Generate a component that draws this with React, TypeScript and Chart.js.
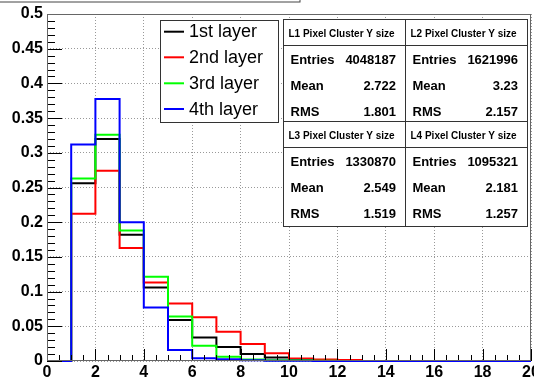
import React, { useEffect, useRef } from "react";
import { Chart, registerables } from "chart.js";
Chart.register(...registerables);

// Histogram bin edges (cluster Y size)
const binEdges = [0, 1, 2, 3, 4, 5, 6, 7, 8, 9, 10, 11, 12, 13, 14, 15, 16, 17, 18, 19, 20];
// Normalised bin contents per layer (20 bins)
const layer1 = [0, 0.256, 0.32, 0.182, 0.106, 0.059, 0.034, 0.02, 0.01, 0.005, 0.0018, 0.0008, 0.0003, 0, 0, 0, 0, 0, 0, 0];
const layer2 = [0, 0.212, 0.274, 0.163, 0.113, 0.083, 0.063, 0.042, 0.0245, 0.011, 0.0035, 0.0022, 0.0015, 0, 0, 0, 0, 0, 0, 0];
const layer3 = [0, 0.263, 0.326, 0.188, 0.1215, 0.064, 0.022, 0.006, 0.002, 0.0012, 0.0012, 0.0003, 0, 0, 0, 0, 0, 0, 0, 0];
const layer4 = [0, 0.312, 0.3775, 0.2, 0.077, 0.016, 0.004, 0.0025, 0.001, 0.0005, 0.0002, 0, 0, 0, 0, 0, 0, 0, 0, 0];

const seriesLabels = ["1st layer", "2nd layer", "3rd layer", "4th layer"];
const seriesColors = ["#000000", "#ff0000", "#00ff00", "#0000ff"];

const statTitles = ["L1 Pixel Cluster Y size", "L2 Pixel Cluster Y size", "L3 Pixel Cluster Y size", "L4 Pixel Cluster Y size"];
const statEntries = ["4048187", "1621996", "1330870", "1095321"];
const statMeans = ["2.722", "3.23", "2.549", "2.181"];
const statRms = ["1.801", "2.157", "1.519", "1.257"];

const xTickValues = [0, 2, 4, 6, 8, 10, 12, 14, 16, 18, 20];
const xTickLabels = ["0", "2", "4", "6", "8", "10", "12", "14", "16", "18", "20"];
const yTickValues = [0, 0.05, 0.1, 0.15, 0.2, 0.25, 0.3, 0.35, 0.4, 0.45, 0.5];
const yTickLabels = ["0", "0.05", "0.1", "0.15", "0.2", "0.25", "0.3", "0.35", "0.4", "0.45", "0.5"];

const FONT = '"Liberation Sans", Arial, Helvetica, sans-serif';

// each bin: horizontal at its value from its low edge to the next edge
function toSteps(vals: number[]) {
  return binEdges.map((e, i) => ({ x: e, y: vals[Math.min(i, vals.length - 1)] }));
}

const overlay = {
  id: "overlay",
  afterDraw(chart: any) {
    const { ctx, chartArea: a, scales } = chart;
    const x = scales.x;
    const y = scales.y;
    ctx.save();
    // inner ticks
    ctx.strokeStyle = "#000";
    ctx.lineWidth = 1;
    ctx.beginPath();
    for (let k = 0; k <= 50; k++) {
      const py = Math.round(y.getPixelForValue(k * 0.01)) + 0.5;
      const len = k % 5 === 0 ? 15 : 8;
      ctx.moveTo(a.left, py);
      ctx.lineTo(a.left + len, py);
    }
    for (let k = 0; k <= 40; k++) {
      const px = Math.round(x.getPixelForValue(k * 0.5)) + 0.5;
      const len = k % 4 === 0 ? 12 : 6;
      ctx.moveTo(px, a.bottom);
      ctx.lineTo(px, a.bottom - len);
    }
    ctx.stroke();
    // frame
    ctx.strokeStyle = "#666";
    ctx.strokeRect(Math.round(a.left) + 0.5, Math.round(a.top) + 0.5, Math.round(a.width) - 1, Math.round(a.height) - 1);

    // title box remnant
    ctx.strokeStyle = "#444";
    ctx.strokeRect(-5.5, -10.5, 305.5, 12.5);

    // legend
    const lx = 160.5, ly = 20.5, lw = 118, lh = 102;
    ctx.fillStyle = "#fff";
    ctx.fillRect(lx, ly, lw, lh);
    ctx.strokeStyle = "#333";
    ctx.lineWidth = 1;
    ctx.strokeRect(lx, ly, lw, lh);
    ctx.font = `18px ${FONT}`;
    ctx.textBaseline = "alphabetic";
    ctx.textAlign = "left";
    const rowY = [31.7, 57.3, 83.3, 109];
    seriesLabels.forEach((lab, i) => {
      ctx.strokeStyle = seriesColors[i];
      ctx.lineWidth = 2;
      ctx.beginPath();
      ctx.moveTo(164, rowY[i]);
      ctx.lineTo(184, rowY[i]);
      ctx.stroke();
      ctx.fillStyle = "#000";
      ctx.fillText(lab, 189, rowY[i] + 5.7);
    });

    // stats boxes
    const sx = 283.5, sw = 244, mid = 405.5;
    const tops = [19.5, 121.5];
    const bottom = 226.5;
    ctx.fillStyle = "#fff";
    ctx.fillRect(sx, tops[0], sw, bottom - tops[0]);
    ctx.strokeStyle = "#333";
    ctx.lineWidth = 1;
    ctx.strokeRect(sx, tops[0], sw, bottom - tops[0]);
    ctx.beginPath();
    ctx.moveTo(mid, tops[0]);
    ctx.lineTo(mid, bottom);
    ctx.moveTo(sx, tops[1]);
    ctx.lineTo(sx + sw, tops[1]);
    ctx.moveTo(sx, 45.5);
    ctx.lineTo(sx + sw, 45.5);
    ctx.moveTo(sx, 147.5);
    ctx.lineTo(sx + sw, 147.5);
    ctx.stroke();
    ctx.fillStyle = "#000";
    for (let i = 0; i < 4; i++) {
      const col = i % 2;
      const row = Math.floor(i / 2);
      const left = col === 0 ? sx : mid;
      const right = col === 0 ? mid : sx + sw;
      const t = tops[row];
      ctx.font = `bold 10px ${FONT}`;
      ctx.textAlign = "left";
      ctx.fillText(statTitles[i], left + 5, t + 17);
      ctx.font = `bold 13px ${FONT}`;
      ctx.fillText("Entries", left + 7, t + 44);
      ctx.fillText("Mean", left + 7, t + 70.5);
      ctx.fillText("RMS", left + 7, t + 96.5);
      ctx.textAlign = "right";
      ctx.fillText(statEntries[i], right - 9.5, t + 44);
      ctx.fillText(statMeans[i], right - 9.5, t + 70.5);
      ctx.fillText(statRms[i], right - 9.5, t + 96.5);
    }
    ctx.restore();
  },
};

export default function App() {
  const ref = useRef<HTMLCanvasElement | null>(null);
  useEffect(() => {
    const canvas = ref.current!;
    const series = [layer1, layer2, layer3, layer4];
    const chart = new Chart(canvas, {
      type: "line",
      data: {
        datasets: series.map((vals, i) => ({
          label: seriesLabels[i],
          data: toSteps(vals),
          borderColor: seriesColors[i],
          backgroundColor: seriesColors[i],
          borderWidth: 2,
          pointRadius: 0,
          stepped: "before" as const,
          fill: false,
          clip: 5,
          order: 4 - i,
        })),
      },
      options: {
        animation: false,
        responsive: false,
        devicePixelRatio: 1,
        layout: { padding: { top: 14, right: 3, left: 0, bottom: 0 } },
        plugins: { legend: { display: false }, tooltip: { enabled: false } },
        scales: {
          x: {
            type: "linear",
            min: 0,
            max: 20,
            afterBuildTicks: (s: any) => {
              s.ticks = xTickValues.map((v) => ({ value: v }));
            },
            afterFit: (s: any) => {
              s.height = 16;
              s.paddingLeft = 0;
              s.paddingRight = 0;
            },
            ticks: {
              autoSkip: false,
              maxRotation: 0,
              padding: 2,
              color: "#000",
              font: { family: FONT, size: 16, weight: "bold" },
              callback: (_v: any, i: number) => xTickLabels[i],
            },
            grid: { drawTicks: false, color: "#999", lineWidth: 1 },
            border: { display: false, dash: [1, 2] },
          },
          y: {
            type: "linear",
            min: 0,
            max: 0.5,
            afterBuildTicks: (s: any) => {
              s.ticks = yTickValues.map((v) => ({ value: v }));
            },
            afterFit: (s: any) => {
              s.width = 47;
              s.paddingTop = 0;
              s.paddingBottom = 0;
            },
            ticks: {
              autoSkip: false,
              padding: 4,
              color: "#000",
              font: { family: FONT, size: 16, weight: "bold" },
              callback: (_v: any, i: number) => yTickLabels[i],
            },
            grid: { drawTicks: false, color: "#999", lineWidth: 1 },
            border: { display: false, dash: [1, 2] },
          },
        },
      },
      plugins: [overlay],
    } as any);
    return () => chart.destroy();
  }, []);
  return (
    <div style={{ position: "absolute", left: 0, top: 0, width: 534, height: 377, background: "#fff" }}>
      <canvas ref={ref} width={534} height={377} style={{ width: 534, height: 377, display: "block" }} />
    </div>
  );
}
